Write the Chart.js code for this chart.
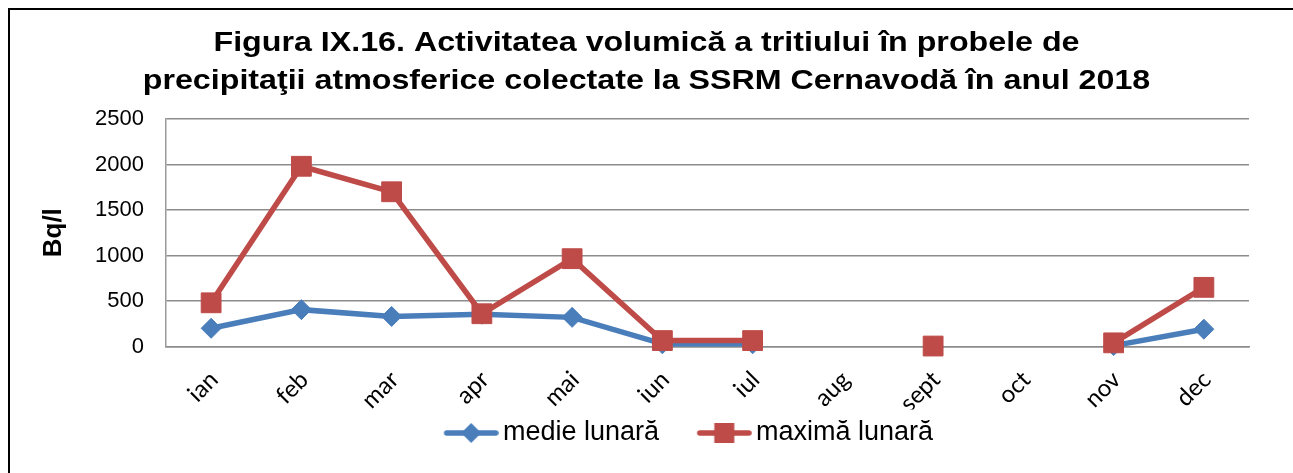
<!DOCTYPE html>
<html><head><meta charset="utf-8">
<script src="https://cdn.jsdelivr.net/npm/chart.js@4.4.0/dist/chart.umd.min.js"></script>
<style>
html,body{margin:0;padding:0;background:#fff;overflow:hidden;}
#frame{position:absolute;left:8px;top:8px;width:1400px;height:600px;border-left:2px solid #000;border-top:2px solid #000;box-sizing:border-box;}
#c{position:absolute;left:0;top:0;}
</style></head><body>
<div id="frame"></div>
<canvas id="c" width="1293" height="473"></canvas>
<script>
const categories = ['ian','feb','mar','apr','mai','iun','iul','aug','sept','oct','nov','dec'];
const medieLunara = [200, 405, 330, 355, 320, 30, 30, null, 5, null, 10, 190];
const maximaLunara = [480, 1980, 1700, 360, 965, 65, 65, null, 5, null, 40, 650];
const yTicks = [0, 500, 1000, 1500, 2000, 2500];
const titleLines = ['Figura IX.16. Activitatea volumică a tritiului în probele de',
                    'precipitaţii atmosferice colectate la SSRM Cernavodă în anul 2018'];
const seriesNames = ['medie lunară', 'maximă lunară'];
const yTitle = 'Bq/l';

const BLUE = '#4a7ebb', RED = '#be4b48';
const TITLE_SCALE_X = 1.15;
const LEGEND_SHIFT = -33;

function legendIcon(color, style) {
  const c = document.createElement('canvas');
  c.width = 92; c.height = 22;
  const g = c.getContext('2d');
  const a = 37;
  g.strokeStyle = color; g.lineWidth = 5.5; g.lineCap = 'round';
  g.beginPath(); g.moveTo(a + 3, 11); g.lineTo(a + 52, 11); g.stroke();
  g.fillStyle = color;
  const cx = a + 27.5;
  if (style === 'diamond') {
    g.beginPath(); g.moveTo(cx, 1); g.lineTo(cx + 10, 11); g.lineTo(cx, 21); g.lineTo(cx - 10, 11); g.closePath(); g.fill();
  } else {
    g.fillRect(cx - 10, 1, 20, 20);
  }
  return c;
}
const icons = [legendIcon(BLUE, 'diamond'), legendIcon(RED, 'square')];

const layoutTweaks = {
  id: 'layoutTweaks',
  afterLayout(chart) {
    const lg = chart.legend;
    if (lg) { lg.left += LEGEND_SHIFT; lg.right += LEGEND_SHIFT; }
  },
  beforeDraw(chart) {
    const t = chart.titleBlock;
    if (t && !t.__wrapped) {
      const orig = t.draw.bind(t);
      t.draw = function () {
        const ctx = chart.ctx, cx = (t.left + t.right) / 2;
        ctx.save();
        ctx.translate(cx, 0); ctx.scale(TITLE_SCALE_X, 1); ctx.translate(-cx, 0);
        orig();
        ctx.restore();
      };
      t.__wrapped = true;
    }
  }
};

new Chart(document.getElementById('c'), {
  type: 'line',
  plugins: [layoutTweaks],
  data: {
    labels: categories,
    datasets: [
      { label: seriesNames[0], data: medieLunara, borderColor: BLUE, backgroundColor: BLUE,
        borderWidth: 5.5, pointStyle: 'rectRot', pointRadius: 10, pointHoverRadius: 10,
        pointBorderWidth: 1, pointBorderColor: BLUE, pointBackgroundColor: BLUE,
        order: 1, spanGaps: false, tension: 0, clip: false },
      { label: seriesNames[1], data: maximaLunara, borderColor: RED, backgroundColor: RED,
        borderWidth: 5.5, pointStyle: 'rect', pointRadius: 14, pointHoverRadius: 14,
        pointBorderWidth: 1, pointBorderColor: RED, pointBackgroundColor: RED,
        order: 0, spanGaps: false, tension: 0, clip: false }
    ]
  },
  options: {
    responsive: false,
    animation: false,
    devicePixelRatio: 1,
    layout: { padding: { top: 0, left: 0, right: 0, bottom: 16.5 } },
    plugins: {
      tooltip: { enabled: false },
      title: {
        display: true, text: titleLines, color: '#000',
        font: { family: 'Liberation Sans', size: 28, weight: 'bold', lineHeight: 1.36 },
        padding: { top: 24, bottom: 18.8 }
      },
      legend: {
        position: 'bottom', fullSize: false,
        labels: {
          color: '#000', font: { family: 'Liberation Sans', size: 27 },
          padding: 10, usePointStyle: true, pointStyleWidth: 73.5,
          sort: (a, b) => a.datasetIndex - b.datasetIndex,
          generateLabels: (chart) => {
            const items = Chart.defaults.plugins.legend.labels.generateLabels(chart);
            items.forEach(it => { it.pointStyle = icons[it.datasetIndex]; });
            return items;
          }
        }
      }
    },
    scales: {
      x: {
        offset: true,
        grid: { display: false, drawTicks: false },
        border: { display: true, color: '#8c8c8c', width: 1.5 },
        ticks: { autoSkip: false, minRotation: 45, maxRotation: 45, padding: 19, labelOffset: 3,
                 color: '#000', font: { family: 'Lato', size: 24 } },
        afterFit: s => { s.height = 63; }
      },
      y: {
        min: 0, max: 2500,
        afterBuildTicks: s => { s.ticks = yTicks.map(v => ({ value: v })); },
        grid: { color: '#8c8c8c', lineWidth: 1.5, drawTicks: false },
        border: { display: true, color: '#9a9a9a', width: 1.5 },
        ticks: { padding: 22, color: '#000', font: { family: 'Liberation Sans', size: 22 },
                 callback: v => String(v) },
        title: { display: true, text: yTitle, color: '#000',
                 font: { family: 'Liberation Sans', size: 26, weight: 'bold', lineHeight: 1.2 },
                 padding: { top: 38, bottom: 0 } },
        afterFit: s => { s.width = 166; }
      },
      y2: {
        position: 'right', display: true,
        grid: { display: false }, border: { display: false }, ticks: { display: false },
        afterFit: s => { s.width = 44; }
      }
    }
  }
});
</script>
</body></html>
